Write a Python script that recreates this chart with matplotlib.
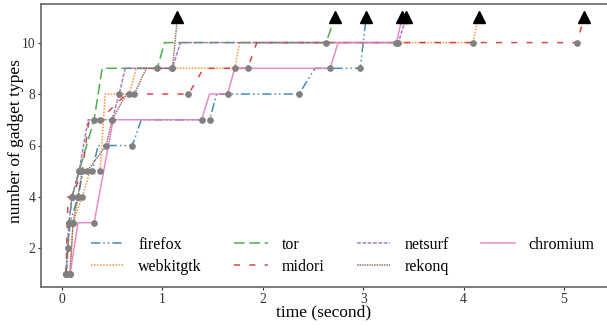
import matplotlib.pyplot as plt

# ==================== data ====================
# each browser: vertices of its line (time in s, number of gadget types);
# the last vertex is the finishing triangle at 11
firefox_t = [0.04, 0.08, 0.16, 0.21, 0.30, 0.36, 0.70, 0.79, 1.47, 1.54, 2.36, 2.52, 2.97, 3.03]
firefox_n = [1, 3, 4, 5, 5, 6, 6, 7, 7, 8, 8, 9, 9, 11]

webkitgtk_t = [0.08, 0.11, 0.20, 0.28, 0.38, 0.43, 0.67, 0.74, 1.72, 1.77, 4.09, 4.15]
webkitgtk_n = [1, 3, 4, 5, 5, 8, 8, 9, 9, 10, 10, 11]

tor_t = [0.04, 0.06, 0.07, 0.10, 0.17, 0.32, 0.40, 0.95, 1.02, 2.63, 2.72]
tor_n = [1, 2, 3, 4, 5, 7, 9, 9, 10, 10, 11]

midori_t = [0.04, 0.06, 0.10, 0.20, 0.27, 0.38, 0.64, 1.26, 1.41, 1.85, 1.94, 5.13, 5.20]
midori_n = [1, 4, 4, 5, 7, 7, 8, 8, 9, 9, 10, 10, 11]

netsurf_t = [0.04, 0.07, 0.10, 0.17, 0.26, 0.50, 0.57, 0.63, 1.10, 1.18, 3.35, 3.43]
netsurf_n = [1, 3, 4, 5, 7, 7, 8, 9, 9, 10, 10, 11]

rekonq_t = [0.08, 0.11, 0.16, 0.20, 0.25, 0.44, 0.50, 0.64, 0.72, 0.84, 1.10, 1.15]
rekonq_n = [1, 3, 4, 5, 5, 6, 7, 8, 8, 9, 9, 11]

chromium_t = [0.08, 0.16, 0.32, 0.51, 1.39, 1.47, 1.65, 1.72, 2.67, 2.75, 3.33, 3.39]
chromium_n = [1, 3, 3, 7, 7, 8, 8, 9, 9, 10, 10, 11]

series = [
    ('firefox', firefox_t, firefox_n, '#1f77b4', (0, (6, 2, 1, 2, 1, 2))),
    ('webkitgtk', webkitgtk_t, webkitgtk_n, '#ff7f0e', (0, (1, 1))),
    ('tor', tor_t, tor_n, '#2ca02c', (0, (7, 3))),
    ('midori', midori_t, midori_n, '#d62728', (0, (4, 6))),
    ('netsurf', netsurf_t, netsurf_n, '#9467bd', (0, (2.5, 1))),
    ('rekonq', rekonq_t, rekonq_n, '#8c564b', (0, (1, 0.6))),
    ('chromium', chromium_t, chromium_n, '#e377c2', '-'),
]

# ==================== plot ====================
plt.rcParams['font.family'] = ['Liberation Serif', 'DejaVu Serif']
fig = plt.figure(figsize=(6.07, 3.25), dpi=100)
ax = fig.add_axes([41 / 607, 38 / 325, 566 / 607, 283 / 325])

for name, t, n, color, ls in series:
    ax.plot(t, n, color=color, linestyle=ls, linewidth=1.1, alpha=0.85, label=name, zorder=2)
    # grey dot where a level ends (next vertex is higher)
    mx = [t[i] for i in range(len(t) - 1) if n[i + 1] > n[i]]
    my = [n[i] for i in range(len(t) - 1) if n[i + 1] > n[i]]
    ax.plot(mx, my, 'o', color='#808080', markersize=3.8, zorder=3)
    ax.plot(t[-1], n[-1], '^', color='black', markersize=8, zorder=4)

ax.set_xlim(-0.209, 5.428)
ax.set_ylim(0.5, 11.5)
ax.set_xticks([0, 1, 2, 3, 4, 5])
ax.set_yticks([2, 4, 6, 8, 10])
ax.set_xlabel('time (second)', fontsize=12.5)
ax.set_ylabel('number of gadget types', fontsize=12.5)
ax.xaxis.set_label_coords(0.5, -0.062)
ax.yaxis.set_label_coords(-0.03, 0.515)
ax.tick_params(labelsize=9.8, colors='#333333', length=2.5, width=0.8, pad=1.5)
for s in ['left', 'bottom', 'top']:
    ax.spines[s].set_color('#666666')
    ax.spines[s].set_linewidth(1.2)
ax.spines['right'].set_visible(False)

ax.legend(loc='lower left', bbox_to_anchor=(91 / 607, 50 / 325),
          bbox_transform=fig.transFigure, borderaxespad=0, borderpad=0,
          ncol=4, frameon=False, fontsize=11.5, handlelength=2.07,
          columnspacing=2.05, handletextpad=0.88, labelspacing=0.4)

plt.savefig('out.png', dpi=100)
